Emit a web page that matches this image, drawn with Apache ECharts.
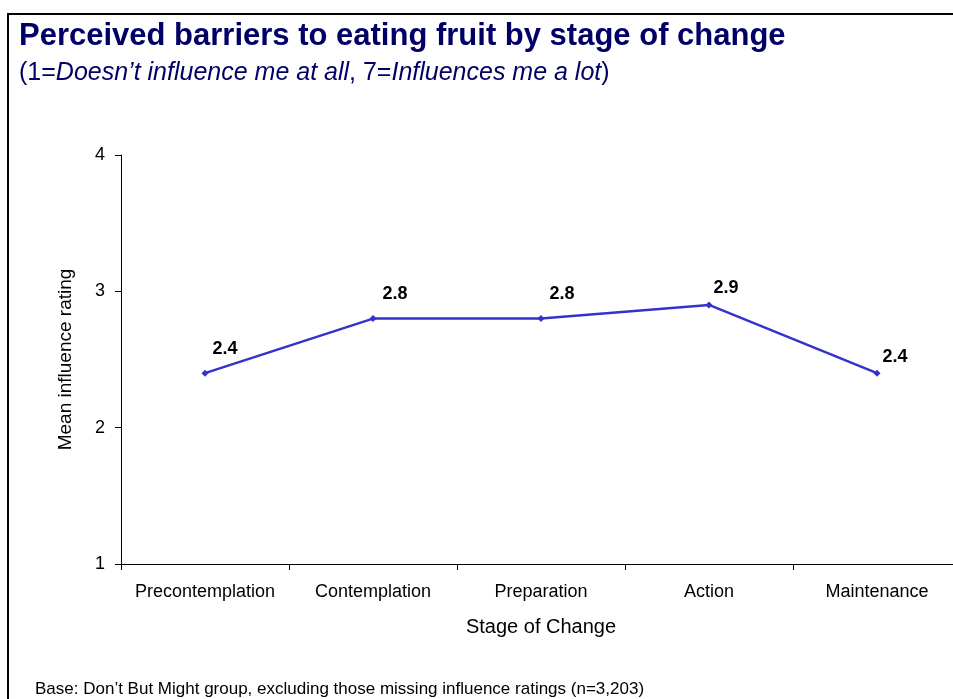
<!DOCTYPE html>
<html>
<head>
<meta charset="utf-8">
<style>
  html, body { margin: 0; padding: 0; background: #fff; overflow: hidden; }
  /* the plot runs a few pixels past the right edge of the window */
  #chart { width: 961px; height: 699px; }
</style>
<script src="https://cdn.jsdelivr.net/npm/echarts@6/dist/echarts.min.js"></script>
</head>
<body>
<div id="chart"></div>
<script>
// Stages of change and mean influence rating of barriers to eating fruit
const stages = ['Precontemplation', 'Contemplation', 'Preparation', 'Action', 'Maintenance'];
const meanRating = [2.4, 2.8, 2.8, 2.9, 2.4];
const yTicks = [1, 2, 3, 4];

// nudges for the value labels so they sit clear of the line
const labelNudge = [[20, -7], [22, -7], [21, -7], [17, 1], [18, 1]];

const FONT = '"Liberation Sans", Arial, Helvetica, sans-serif';
const chart = echarts.init(document.getElementById('chart'), null, { renderer: 'canvas' });

const seriesData = meanRating.map((v, i) => ({
  value: v,
  label: { offset: labelNudge[i] }
}));

chart.setOption({
  backgroundColor: '#ffffff',
  animation: false,
  textStyle: { fontFamily: FONT },
  graphic: [
    {
      // slide frame, open to the right and bottom
      type: 'rect',
      shape: { x: 8, y: 14, width: 1200, height: 1000 },
      style: { fill: 'none', stroke: '#000', lineWidth: 2 },
      silent: true
    },
    {
      type: 'text',
      left: 19, top: 21,
      style: {
        text: 'Perceived barriers to eating fruit by stage of change',
        font: 'bold 31px ' + FONT,
        fill: '#000066'
      }
    },
    {
      type: 'text',
      left: 19, top: 61,
      style: {
        text: '(1={i|Doesn\u2019t influence me at all}, 7={i|Influences me a lot})',
        font: '25px ' + FONT,
        fill: '#000066',
        rich: {
          i: { fontStyle: 'italic', fontSize: 25, fontFamily: FONT, fill: '#000066' }
        }
      }
    },
    {
      type: 'text',
      left: 35, top: 681,
      style: {
        text: 'Base: Don\u2019t But Might group, excluding those missing influence ratings (n=3,203)',
        font: '17px ' + FONT,
        fill: '#000'
      }
    }
  ],
  grid: { left: 121, right: 0, top: 155, bottom: 135, containLabel: false },
  xAxis: {
    type: 'category',
    data: stages,
    boundaryGap: true,
    name: 'Stage of Change',
    nameLocation: 'middle',
    nameGap: 53,
    nameTextStyle: { fontSize: 20, color: '#000', fontFamily: FONT },
    axisLine: { lineStyle: { color: '#000', width: 1 } },
    axisTick: { show: true, length: 6, interval: 0, inside: false, lineStyle: { color: '#000' } },
    axisLabel: { fontSize: 18, color: '#000', margin: 19, interval: 0, fontFamily: FONT },
    splitLine: { show: false }
  },
  yAxis: {
    type: 'value',
    min: yTicks[0],
    max: yTicks[yTicks.length - 1],
    interval: 1,
    name: 'Mean influence rating',
    nameLocation: 'middle',
    nameGap: 46,
    nameTextStyle: { fontSize: 19, color: '#000', fontFamily: FONT },
    axisLine: { show: true, lineStyle: { color: '#000', width: 1 } },
    axisTick: { show: true, length: 6, lineStyle: { color: '#000' } },
    axisLabel: { fontSize: 18, color: '#000', margin: 16, fontFamily: FONT },
    splitLine: { show: false }
  },
  series: [
    {
      type: 'line',
      data: seriesData,
      symbol: 'diamond',
      symbolSize: 7,
      lineStyle: { color: '#3333cc', width: 2.5 },
      itemStyle: { color: '#3333cc' },
      label: {
        show: true,
        position: 'top',
        distance: 5,
        fontSize: 18,
        fontWeight: 'bold',
        color: '#000',
        fontFamily: FONT,
        formatter: p => p.value.toFixed(1)
      }
    }
  ]
});
</script>
</body>
</html>
